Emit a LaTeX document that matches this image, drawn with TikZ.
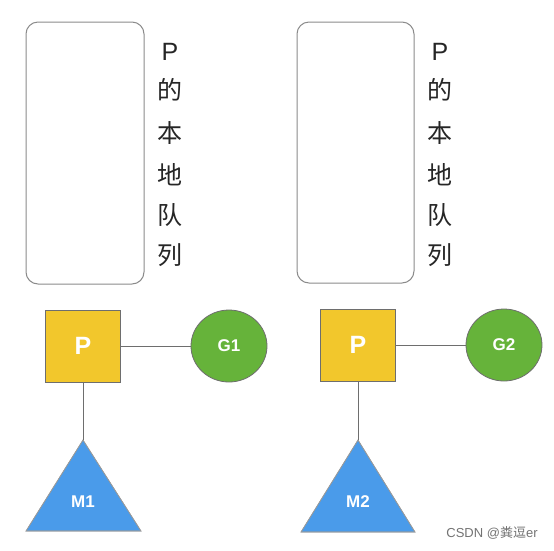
\documentclass[tikz,border=0pt]{standalone}
\usepackage{fontspec}
\setmainfont{Liberation Sans}
\newfontfamily\cjk{Noto Sans CJK SC}
\usetikzlibrary{shapes.geometric}
\definecolor{pyellow}{HTML}{F2C72C}
\definecolor{ggreen}{HTML}{66B33A}
\definecolor{mblue}{HTML}{4A9BEA}
\definecolor{edgegray}{HTML}{6E6E6E}
\begin{document}
\begin{tikzpicture}[x=1pt,y=-1pt,
  queuebox/.style={draw=edgegray!80,line width=1pt,rounded corners=12pt},
  vtext/.style={font=\cjk\fontsize{25}{25}\selectfont,text=black!85,inner sep=0pt},
  pbox/.style={draw=edgegray,line width=0.8pt,fill=pyellow,minimum width=75pt,minimum height=72pt,inner sep=0pt,text=white,font=\bfseries\fontsize{25}{25}\selectfont},
  gcirc/.style={draw=edgegray,line width=0.8pt,fill=ggreen,ellipse,minimum width=76pt,minimum height=72pt,inner sep=0pt,text=white,font=\bfseries\fontsize{17}{17}\selectfont},
  mtri/.style={fill=mblue,draw=edgegray!70,line width=0.6pt},
  mlabel/.style={text=white,font=\bfseries\fontsize{17}{17}\selectfont,inner sep=0pt},
  link/.style={draw=edgegray,line width=0.9pt}]
\useasboundingbox (0,0) rectangle (554,550);
\fill[white] (0,0) rectangle (554,550);
% left queue
\draw[queuebox] (26,22) rectangle (144,284);
\node[vtext] (lq1) at (170,52) {\fontspec{Liberation Sans}P};
\node[vtext] (lq2) at (170,90) {的};
\node[vtext] (lq3) at (170,133) {本};
\node[vtext] (lq4) at (170,175) {地};
\node[vtext] (lq5) at (170,215) {队};
\node[vtext] (lq6) at (170,255) {列};
% right queue
\draw[queuebox] (297,22) rectangle (414,283);
\node[vtext] (rq1) at (440,52) {\fontspec{Liberation Sans}P};
\node[vtext] (rq2) at (440,90) {的};
\node[vtext] (rq3) at (440,133) {本};
\node[vtext] (rq4) at (440,175) {地};
\node[vtext] (rq5) at (440,215) {队};
\node[vtext] (rq6) at (440,255) {列};
% left P, G1, M1
\node[pbox] (p1) at (83,346) {P};
\node[gcirc] (g1) at (229,346) {G1};
\coordinate (m1top) at (83,440);
\fill[mtri] (m1top) -- (141,531) -- (26,531) -- cycle;
\draw[edgegray!70,line width=0.6pt] (m1top) -- (141,531) -- (26,531) -- cycle;
\node[mlabel] (m1) at (83,502) {M1};
\draw[link] (p1.east) -- (g1.west);
\draw[link] (p1.south) -- (m1top);
% right P, G2, M2
\node[pbox] (p2) at (358,345) {P};
\node[gcirc] (g2) at (504,345) {G2};
\coordinate (m2top) at (358,440);
\fill[mtri] (m2top) -- (415,532) -- (301,532) -- cycle;
\draw[edgegray!70,line width=0.6pt] (m2top) -- (415,532) -- (301,532) -- cycle;
\node[mlabel] (m2) at (358,502) {M2};
\draw[link] (p2.east) -- (g2.west);
\draw[link] (p2.south) -- (m2top);
% watermark
\node[text=black!55,font=\fontsize{13}{13}\selectfont,inner sep=0pt] (wm) at (492,533) {CSDN @{\cjk 粪逗}er};
\end{tikzpicture}
\end{document}
